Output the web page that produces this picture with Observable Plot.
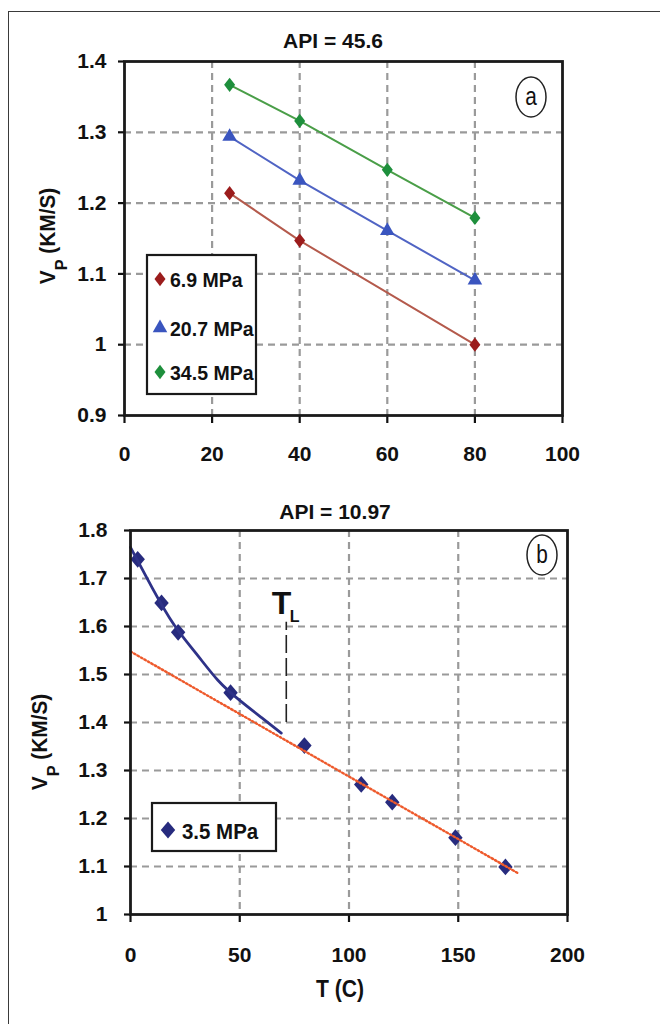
<!DOCTYPE html>
<html><head><meta charset="utf-8">
<script src="https://cdn.jsdelivr.net/npm/d3@7"></script>
<script src="https://cdn.jsdelivr.net/npm/@observablehq/plot@0.6"></script>
<style>
body{margin:0;background:#fff;}
#fig{position:relative;width:660px;height:1024px;overflow:hidden;background:#fff;}
#frame{position:absolute;left:8px;top:11px;width:700px;height:1100px;border:1.5px solid #3a3a3a;}
#pa{position:absolute;left:0;top:0;}
#pb{position:absolute;left:0;top:480px;}
</style></head><body>
<div id="fig"><div id="frame"></div><div id="pa"></div><div id="pb"></div></div>
<script>
// ---------- Panel (a) data: API = 45.6 ----------
const titleA = "API = 45.6";
const pressuresA = ["6.9 MPa", "20.7 MPa", "34.5 MPa"];
const tempA = [24, 40, 60, 80];
const vp69 = [1.214, 1.147, null, 1.000];
const vp207 = [1.294, 1.232, 1.161, 1.091];
const vp345 = [1.367, 1.316, 1.247, 1.179];
const xTicksA = [0, 20, 40, 60, 80, 100];
const yTicksA = [0.9, 1.0, 1.1, 1.2, 1.3, 1.4];

// ---------- Panel (b) data: API = 10.97 ----------
const titleB = "API = 10.97";
const pressureB = "3.5 MPa";
const tempB = [3.3, 14.2, 21.8, 45.8, 79.6, 105.6, 119.8, 148.7, 171.6];
const vpB = [1.740, 1.649, 1.588, 1.462, 1.352, 1.271, 1.234, 1.160, 1.099];
// fitted curve (low-temperature branch)
const curveT = [0, 10, 20, 30, 40, 50, 60, 69];
const curveV = [1.765, 1.680, 1.603, 1.544, 1.488, 1.446, 1.410, 1.378];
// linear trend (high-temperature branch)
const trendT = [0, 177.7];
const trendV = [1.548, 1.085];
// liquid-point marker T_L
const tlT = [71.3];
const tlV = [1.40, 1.609];
const xTicksB = [0, 50, 100, 150, 200];
const yTicksB = [1.0, 1.1, 1.2, 1.3, 1.4, 1.5, 1.6, 1.7, 1.8];

const yLabel = ["V", "P", " (KM/S)"];
const xLabelB = "T (C)";

// ---------- styling ----------
const FONT = '"Liberation Sans", Arial, Helvetica, sans-serif';
const markerA = ["#9b1c1c", "#3a55bf", "#1e8f3c"];
const lineA = ["#b45a4c", "#5064c4", "#4a9e48"];
const symA = ["diamond", "triangle", "diamond"];
const navy = "#272b7e";
const trendColor = "#ee5a2c";
const gridStyle = {stroke: "#9a9a9a", strokeOpacity: 1, strokeWidth: 2.2, strokeDasharray: "7,5"};
const fmt = d => String(+d.toFixed(1));

const rhombus = (ratio) => ({
  draw(ctx, size) {
    const h = Math.sqrt(size / (2 * ratio));
    const w = h * ratio;
    ctx.moveTo(0, -h); ctx.lineTo(w, 0); ctx.lineTo(0, h); ctx.lineTo(-w, 0); ctx.closePath();
  }
});
const diaA = rhombus(0.77);
const diaB = rhombus(0.86);
const symbolOf = s => s === "diamond" ? diaA : s;

const seriesA = [vp69, vp207, vp345].map((vals, i) =>
  tempA.map((t, j) => ({series: pressuresA[i], T: t, V: vals[j]})).filter(d => d.V != null));

const plotA = Plot.plot({
  width: 660, height: 480,
  marginLeft: 124, marginRight: 98, marginTop: 61, marginBottom: 65,
  x: {domain: [0, 100]},
  y: {domain: [0.9, 1.4]},
  style: {fontFamily: FONT, fontSize: "21px", fontWeight: "bold", background: "transparent", overflow: "visible", color: "#111"},
  marks: [
    Plot.gridX(xTicksA.slice(1, -1), gridStyle),
    Plot.gridY(yTicksA.slice(1, -1), gridStyle),
    Plot.axisY(yTicksA, {tickSize: 6, tickPadding: 12, tickFormat: fmt, label: null, strokeWidth: 2.2}),
    Plot.axisX(xTicksA, {tickSize: 8, tickPadding: 23, tickFormat: fmt, label: null, strokeWidth: 2.2}),
    ...seriesA.map((rows, i) => Plot.line(rows, {x: "T", y: "V", stroke: lineA[i], strokeWidth: 2})),
    ...seriesA.map((rows, i) => Plot.dot(rows, {x: "T", y: "V", fill: markerA[i], symbol: symbolOf(symA[i]), r: symA[i] === "triangle" ? 5.4 : 5, stroke: "none"})),
    Plot.frame({stroke: "#1a1a1a", strokeWidth: 2.8})
  ]
});

const rowsB = tempB.map((t, i) => ({T: t, V: vpB[i]}));
const rowsCurve = curveT.map((t, i) => ({T: t, V: curveV[i]}));
const rowsTrend = trendT.map((t, i) => ({T: t, V: trendV[i]}));

const plotB = Plot.plot({
  width: 660, height: 544,
  marginLeft: 130, marginRight: 93, marginTop: 50, marginBottom: 110,
  x: {domain: [0, 200]},
  y: {domain: [1.0, 1.8]},
  style: {fontFamily: FONT, fontSize: "21px", fontWeight: "bold", background: "transparent", overflow: "visible", color: "#111"},
  marks: [
    Plot.gridX(xTicksB.slice(1, -1), gridStyle),
    Plot.gridY(yTicksB.slice(1, -1), gridStyle),
    Plot.axisY(yTicksB, {tickSize: 6, tickPadding: 17, tickFormat: fmt, label: null, strokeWidth: 2.2}),
    Plot.axisX(xTicksB, {tickSize: 8, tickPadding: 25, tickFormat: fmt, label: null, strokeWidth: 2.2}),
    Plot.ruleX(tlT, {y1: tlV[0], y2: tlV[1], stroke: "#222", strokeWidth: 1.6, strokeDasharray: "18,5"}),
    Plot.dot(rowsB, {x: "T", y: "V", fill: navy, symbol: diaB, r: 6.2, stroke: "none"}),
    Plot.line(rowsCurve, {x: "T", y: "V", curve: "natural", stroke: "#2e3288", strokeWidth: 2.8}),
    Plot.line(rowsTrend, {x: "T", y: "V", stroke: trendColor, strokeWidth: 2.4, strokeDasharray: "1.6,2.4"}),
    Plot.frame({stroke: "#1a1a1a", strokeWidth: 2.8})
  ]
});

document.getElementById("pa").append(plotA);
document.getElementById("pb").append(plotB);

// ---------- helpers for annotation text ----------
function condense(sel, s) {
  sel.each(function () {
    const el = d3.select(this);
    const x = +(el.attr("x") || 0), y = +(el.attr("y") || 0);
    const t = el.attr("transform") || "";
    el.attr("transform", `${t} translate(${x},${y}) scale(${s},1) translate(${-x},${-y})`);
  });
}
function txt(svg, x, y, s, o = {}) {
  return svg.append("text").attr("x", x).attr("y", y)
    .attr("font-family", FONT).attr("font-size", o.size || 20)
    .attr("font-weight", o.weight || "bold").attr("text-anchor", o.anchor || "start")
    .attr("fill", o.fill || "#111").text(s);
}
function yTitle(svg, x, y) {
  const t = svg.append("text").attr("transform", `translate(${x},${y}) rotate(-90) scale(0.95,1)`)
    .attr("font-family", FONT).attr("font-size", 22).attr("font-weight", "bold")
    .attr("text-anchor", "middle").attr("fill", "#111");
  t.append("tspan").text(yLabel[0]);
  t.append("tspan").attr("font-size", 17).attr("dy", 12).text(yLabel[1]);
  t.append("tspan").attr("dy", -12).text(yLabel[2]);
}
function badge(svg, cx, cy, s) {
  svg.append("ellipse").attr("cx", cx).attr("cy", cy).attr("rx", 15).attr("ry", 20)
    .attr("fill", "white").attr("stroke", "#222").attr("stroke-width", 1.5);
  condense(txt(svg, cx, cy + 8, s, {size: 26, weight: "normal", anchor: "middle"}), 0.8);
}
function symbolPath(sym, r) {
  const s = typeof sym === "string" ? d3.symbolTriangle : sym;
  return d3.symbol(s, Math.PI * r * r)();
}

const sa = d3.select(plotA);
txt(sa, 333, 48, titleA, {size: 21, anchor: "middle"});
yTitle(sa, 55, 236);
badge(sa, 531, 97, "a");
sa.append("rect").attr("x", 147).attr("y", 255).attr("width", 109).attr("height", 139)
  .attr("fill", "white").attr("stroke", "#1a1a1a").attr("stroke-width", 2.2);
[279, 328, 372].forEach((yy, i) => {
  sa.append("path").attr("d", symbolPath(symbolOf(symA[i]), symA[i] === "triangle" ? 5.4 : 5))
    .attr("transform", `translate(160,${yy})`).attr("fill", markerA[i]);
  condense(txt(sa, 170, yy + 8, pressuresA[i], {size: 21}), 0.93);
});

const sb = d3.select(plotB);
txt(sb, 335, 39, titleB, {size: 21, anchor: "middle"});
yTitle(sb, 47, 262);
badge(sb, 542, 75, "b");
condense(txt(sb, 340, 517, xLabelB, {size: 23, anchor: "middle"}), 0.92);
sb.append("rect").attr("x", 152).attr("y", 323).attr("width", 124).attr("height", 48)
  .attr("fill", "white").attr("stroke", "#1a1a1a").attr("stroke-width", 2.2);
sb.append("path").attr("d", symbolPath(diaB, 6.2)).attr("transform", "translate(168,350)").attr("fill", navy);
condense(txt(sb, 182, 359, pressureB, {size: 22}), 0.93);
// T_L label anchored to the marker line
const xs = plotB.scale("x"), ys = plotB.scale("y");
const tlx = xs.apply(tlT[0]), tly = ys.apply(tlV[1]);
txt(sb, tlx - 14, tly - 8, "T", {size: 32});
txt(sb, tlx + 4, tly + 0, "L", {size: 16});
</script></body></html>
